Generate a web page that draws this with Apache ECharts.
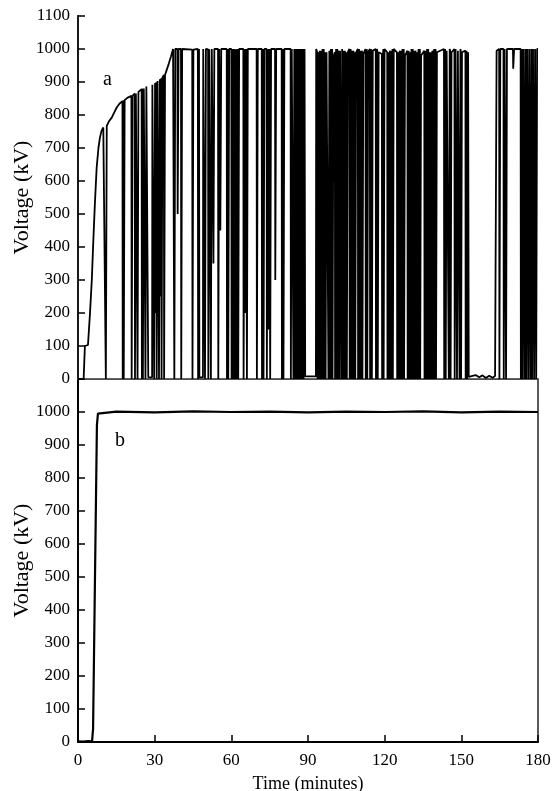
<!DOCTYPE html>
<html><head><meta charset="utf-8">
<script src="https://cdn.jsdelivr.net/npm/echarts@6/dist/echarts.min.js"></script>
<style>html,body{margin:0;padding:0;background:#fff}#c{width:557px;height:791px}</style>
</head><body><div id="c"></div>
<script>
// ---- data ----
const xTickLabels = [0, 30, 60, 90, 120, 150, 180];          // Time (minutes)
const yTickLabels = [0,100,200,300,400,500,600,700,800,900,1000,1100]; // Voltage (kV)

// trace a: start-up before the first breakdown  [min, kV]
const startA = [[0,0],[2.2,0],[2.4,5],[2.7,100],[3.9,103],[4.7,200],[5.4,300],[6.0,420],[6.6,530],[7.3,640],[8.0,700],[8.6,732],[9.2,752],[9.9,762],[10.6,767]];
// extra shape points of trace a: slow rise, ramp to 1000 kV, the wavy low spell, end point
const shapeA = [[12.2,782],[13.2,792],[14.2,808],[15.1,822],[16.2,834],[19.3,852],[21.6,862],
  [34.3,925],[35.5,955],[36.4,978],[37.2,1000],
  [154.0,9],[155.6,12],[157.0,5],[158.3,11],[159.6,3],[160.9,10],[162.2,4],[163.2,9],
  [180,1000]];
// breakdowns of trace a: [time of collapse, kV before, lowest kV, (time of recovery)]
const breaksRamp = [[10.8,767,0],[17.4,842,0],[17.8,845,0],[20.9,858,0],[22.2,865,0],[23.2,870,0],[24.9,878,0],[25.3,880,0],[26.3,886,0],[27.4,892,5,29.1],[29.7,897,0],[30.2,899,200],[30.7,903,0],[31.6,908,0],[32.1,911,250],[32.6,914,0],[33.6,921,0]];
const breaksPlateau = [[37.6,1000,0],[38.9,1000,500],[40.3,1000,0],[44.7,998,0],[46.9,1000,0],[47.4,1000,5,49.0],[49.6,1000,0],[50.9,999,0],[51.9,1000,0],[52.9,1000,350],[54.8,1000,0],[55.6,1000,450],[58.2,1000,0],[58.7,1000,0],[60.0,1000,0],[60.6,1000,0],[61.3,999,0],[61.9,1000,0],[62.6,1000,0],[64.7,1000,0],[65.3,1000,200],[66.0,1000,0],[69.9,1000,0],[71.9,1000,0],[72.5,1000,0],[73.8,1000,0],[74.4,1000,150],[75.1,1000,0],[77.1,1000,300],[79.7,1000,0],[80.3,1000,0],[83.2,1000,0],[84.2,1000,0],[84.9,1000,0],[85.5,1000,0],[86.2,1000,0],[86.9,1000,0],[87.5,1000,0],[88.2,1000,0],[88.8,1000,8,93.2]];
const breaksDense1 = [[93.6,990,0],[94.1,975,0],[94.6,995,0],[95.2,985,0],[95.7,1000,0],[96.3,970,0],[96.8,990,0],[97.9,995,0],[98.4,980,0],[99.0,1000,0],[99.5,975,0],[100.5,990,0],[101.0,1000,0],[101.6,985,0],[102.1,995,0],[102.9,1000,0],[103.4,980,0],[104.0,995,0],[104.5,970,0],[105.1,990,0],[106.2,1000,0],[106.8,985,0],[107.3,995,0],[107.9,975,0],[108.4,990,0],[109.5,1000,0],[110.0,980,0],[110.6,995,0],[111.2,985,0],[112.5,1000,0],[113.1,990,0],[114.2,1000,0],[114.9,995,0],[116.5,1000,0],[117.2,990,0],[118.9,985,0],[119.5,1000,0]];
const breaksDense2 = [[121.0,990,0],[121.5,975,0],[122.1,995,0],[122.6,985,0],[123.1,1000,0],[124.8,990,0],[125.3,970,0],[125.9,995,0],[126.4,985,0],[127.0,1000,0],[127.5,980,0],[128.9,995,0],[129.4,975,0],[130.0,990,0],[130.5,1000,0],[131.1,985,0],[131.6,995,0],[132.2,970,0],[132.7,990,0],[133.3,1000,0],[133.8,980,0],[135.5,995,0],[136.0,985,0],[136.6,1000,0],[137.1,975,0],[137.7,990,0],[138.2,995,0],[138.8,980,0],[139.4,1000,0],[140.0,990,0],[143.2,1000,0],[143.8,995,0],[145.0,1000,0],[145.7,990,0],[147.3,1000,0],[148.2,995,0],[149.2,1000,0],[149.8,990,0],[151.6,995,0],[152.2,990,0],[152.8,995,6,163.8]];
const breaksEnd = [[164.8,1000,0],[166.5,1000,0],[167.4,1000,0],[170.2,1000,940],[173.2,1000,0],[173.8,1000,0],[174.6,1000,0],[175.3,1000,0],[176.1,1000,0],[176.9,1000,0],[177.6,1000,0],[178.4,1000,0],[179.2,1000,0]];

// trace b  [min, kV]
const traceB = [[0,2],[2,1],[4,3],[5.5,2],[5.9,40],[7.4,960],[7.8,995],[8.5,1000],[15,1001],[30,999],[45,1002],[60,1000],[75,1001],[90,999],[105,1001],[120,1000],[135,1002],[150,999],[165,1001],[180,1000]];

// ---- build trace a from the breakdown tables ----
const traceA = startA.slice();
[breaksRamp, breaksPlateau, breaksDense1, breaksDense2, breaksEnd].forEach(group => {
  group.forEach(e => {
    const t = e[0], lv = e[1], fl = e[2];
    const up = e.length > 3 ? e[3] : t + 0.45;
    traceA.push([t, lv], [t + 0.1, fl]);
    if (up - t > 0.6) traceA.push([up - 0.1, fl]);
    traceA.push([up, lv]);
  });
});
shapeA.forEach(p => traceA.push(p));
traceA.sort((a, b) => a[0] - b[0]);

const FONT = 'Liberation Serif';
const lab = {fontFamily: FONT, fontSize: 17, color: '#000'};
const black = {color: '#000', width: 2};
const yName = {fontFamily: FONT, fontSize: 22, color: '#000'};

const chart = echarts.init(document.getElementById('c'));
chart.setOption({
  animation: false,
  backgroundColor: '#fff',
  title: [
    {text: 'a', left: 103, top: 70, padding: 0, textStyle: {fontFamily: FONT, fontSize: 20, fontWeight: 'normal', color: '#000'}},
    {text: 'b', left: 115, top: 431, padding: 0, textStyle: {fontFamily: FONT, fontSize: 20, fontWeight: 'normal', color: '#000'}}
  ],
  grid: [
    {left: 78, top: 16, width: 460, height: 363, containLabel: false, outerBoundsMode: 'none'},
    {left: 78, top: 379, width: 460, height: 363, containLabel: false, outerBoundsMode: 'none'}
  ],
  xAxis: [
    {gridIndex: 0, type: 'value', min: 0, max: 180, interval: 30, axisLine: {lineStyle: {color: '#999', width: 1}}, axisTick: {show: false}, axisLabel: {show: false}, splitLine: {show: false}},
    {gridIndex: 0, type: 'value', position: 'top', min: 0, max: 180, interval: 30, axisLine: {lineStyle: {color: '#333', width: 1.5}}, axisTick: {show: false}, axisLabel: {show: false}, splitLine: {show: false}},
    {gridIndex: 1, type: 'value', min: 0, max: 180, interval: 30, axisLine: {lineStyle: black}, axisTick: {inside: true, length: 7, lineStyle: {color: '#000', width: 1.5}},
     axisLabel: Object.assign({margin: 10, formatter: v => xTickLabels.includes(v) ? String(v) : ''}, lab), splitLine: {show: false},
     name: 'Time (minutes)', nameLocation: 'middle', nameGap: 33, nameTextStyle: {fontFamily: FONT, fontSize: 18, color: '#000'}}
  ],
  yAxis: [
    {gridIndex: 0, type: 'value', min: 0, max: 1100, interval: 100, axisLine: {show: true, lineStyle: black}, axisTick: {show: true, inside: true, length: 7, lineStyle: {color: '#000', width: 1.5}},
     axisLabel: Object.assign({margin: 8, formatter: v => yTickLabels.includes(v) ? String(v) : ''}, lab), splitLine: {show: false},
     name: 'Voltage (kV)', nameLocation: 'middle', nameGap: 45, nameMoveOverlap: false, nameRotate: 90, nameTextStyle: yName},
    {gridIndex: 0, type: 'value', position: 'right', min: 0, max: 1100, interval: 100, axisLine: {show: true, lineStyle: {color: '#222', width: 1.5}}, axisTick: {show: false}, axisLabel: {show: false}, splitLine: {show: false}},
    {gridIndex: 1, type: 'value', min: 0, max: 1100, interval: 100, axisLine: {show: true, lineStyle: black}, axisTick: {show: true, inside: true, length: 7, lineStyle: {color: '#000', width: 1.5}},
     axisLabel: Object.assign({margin: 8, formatter: v => (v === 1100 ? '' : String(v))}, lab), splitLine: {show: false},
     name: 'Voltage (kV)', nameLocation: 'middle', nameGap: 45, nameMoveOverlap: false, nameRotate: 90, nameTextStyle: yName},
    {gridIndex: 1, type: 'value', position: 'right', min: 0, max: 1100, interval: 100, axisLine: {show: true, lineStyle: {color: '#222', width: 1.5}}, axisTick: {show: false}, axisLabel: {show: false}, splitLine: {show: false}}
  ],
  series: [
    {type: 'line', xAxisIndex: 0, yAxisIndex: 0, data: traceA, symbol: 'none', silent: true, lineStyle: {color: '#000', width: 1.8}},
    {type: 'line', xAxisIndex: 2, yAxisIndex: 2, data: traceB, symbol: 'none', silent: true, lineStyle: {color: '#000', width: 2.2}}
  ]
});
</script></body></html>
